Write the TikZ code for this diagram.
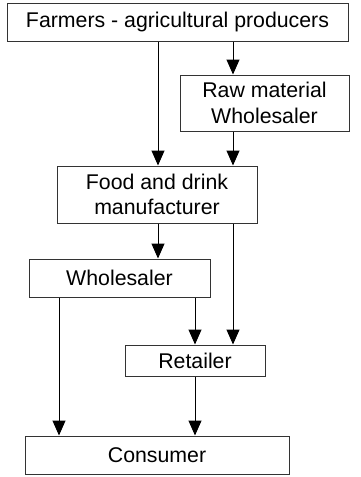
\documentclass[tikz,border=0pt]{standalone}
\usepackage{fontspec}
\setmainfont{Liberation Sans}
\usetikzlibrary{arrows.meta}

\begin{document}
\begin{tikzpicture}[x=1pt, y=-1pt,
    stage/.style={draw=black!80, line width=1pt, align=center, inner sep=0pt,
      font=\fontsize{21.3}{25.5}\selectfont},
    flow/.style={-{Triangle[length=15pt, width=13pt]}, line width=1pt}]
    \useasboundingbox (0,0) rectangle (360,477);
    % boxes
    \node[stage, minimum width=341pt, minimum height=38pt] (farmers) at (177.5,22) {Farmers - agricultural producers};
    \node[stage, minimum width=169pt, minimum height=56pt] (rawmat) at (264.5,103) {Raw material\\Wholesaler};
    \node[stage, minimum width=200pt, minimum height=57pt] (food) at (157,194.5) {Food and drink\\manufacturer};
    \node[stage, minimum width=181pt, minimum height=38pt] (whole) at (119.5,278) {Wholesaler};
    \node[stage, minimum width=140pt, minimum height=31pt] (retail) at (195,360.5) {Retailer};
    \node[stage, minimum width=264pt, minimum height=38pt] (consumer) at (157,455) {Consumer};
    % columns of the connectors
    \coordinate (xa) at (59,0);
    \coordinate (xb) at (158,0);
    \coordinate (xc) at (195,0);
    \coordinate (xd) at (233,0);
    % connectors
    \draw[flow] (farmers.south -| xb) -- (food.north -| xb);
    \draw[flow] (farmers.south -| xd) -- (rawmat.north -| xd);
    \draw[flow] (rawmat.south -| xd) -- (food.north -| xd);
    \draw[flow] (food.south -| xb) -- (whole.north -| xb);
    \draw[flow] (whole.south -| xa) -- (consumer.north -| xa);
    \draw[flow] (whole.south -| xc) -- (retail.north -| xc);
    \draw[flow] (food.south -| xd) -- (retail.north -| xd);
    \draw[flow] (retail.south -| xc) -- (consumer.north -| xc);
\end{tikzpicture}
\end{document}
